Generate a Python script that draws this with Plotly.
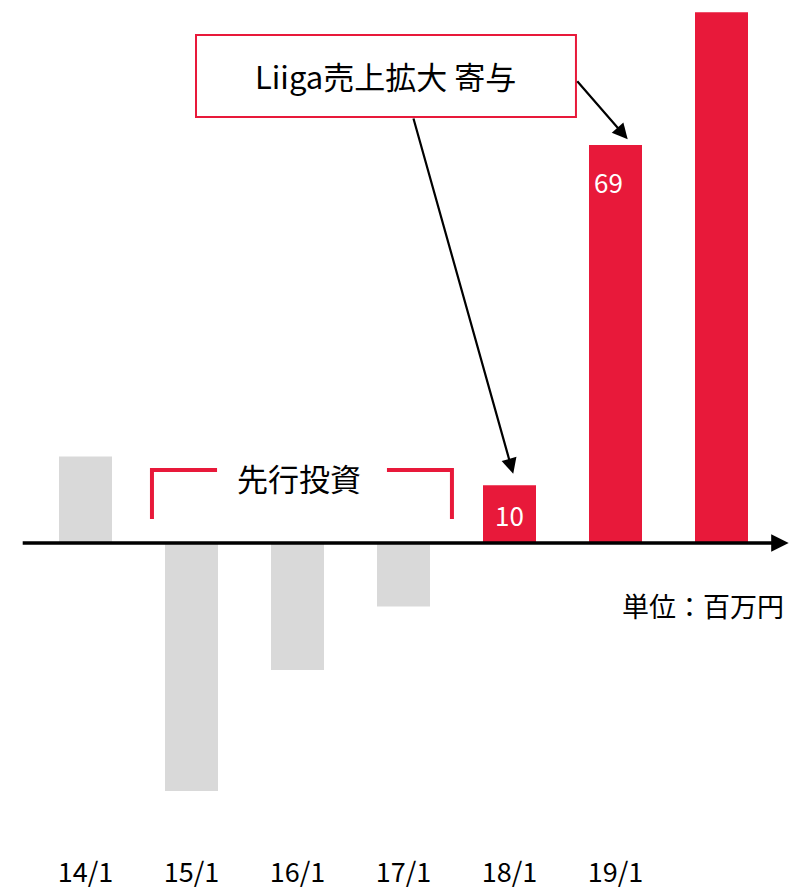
import plotly.graph_objects as go

# Operating result by fiscal period (unit: million yen)
periods = ["14/1", "15/1", "16/1", "17/1", "18/1", "19/1", ""]
profit = [15, -43, -22, -11, 10, 69, 92]
labelled = {"18/1": 10, "19/1": 69}
invest_periods = ["15/1", "16/1", "17/1"]
first_liiga_idx = 4

RED = "#E8193A"
GRAY = "#D9D9D9"
FONT = "Noto Sans CJK JP"

xs = list(range(len(periods)))
colors = [RED if i >= first_liiga_idx else GRAY for i in xs]

fig = go.Figure(
    go.Bar(x=xs, y=profit, marker=dict(color=colors, line=dict(width=0)), width=0.5,
           hoverinfo="skip")
)

# plot geometry: category i centred at 85.5 + 106*i px, 5.768 px per million yen
x_lo, x_hi = -85.5 / 106, (794 - 85.5) / 106
y_hi, y_lo = 543 / 5.768, -(840 - 543) / 5.768

annotations = []

# horizontal axis drawn as an arrow through zero
annotations.append(dict(
    x=x_hi - 0.05, y=0, ax=x_lo + 0.2, ay=0, xref="x", yref="y", axref="x", ayref="y",
    text="", showarrow=True, arrowhead=2, arrowsize=1.0, arrowwidth=3.5, arrowcolor="black",
))

# value labels inside the Liiga bars
shifts = {"18/1": (0, -9), "19/1": (-7, -16)}
for p, v in labelled.items():
    i = periods.index(p)
    dx, dy = shifts[p]
    annotations.append(dict(
        x=i, y=profit[i], xref="x", yref="y", text=str(v), showarrow=False,
        yanchor="top", xshift=dx, yshift=dy, font=dict(family=FONT, size=26, color="white"),
    ))

# callout box
box = dict(x0=1.0425, x1=4.627, y0=73.86, y1=88.07)
annotations.append(dict(
    x=(box["x0"] + box["x1"]) / 2, y=(box["y0"] + box["y1"]) / 2, xref="x", yref="y",
    text="Liiga売上拡大 寄与", showarrow=False, font=dict(family=FONT, size=31, color="#000"),
))
# arrows from the callout to the 18/1 and 19/1 bars
annotations.append(dict(
    x=4.035, y=12.0, ax=3.09, ay=box["y0"], xref="x", yref="y", axref="x", ayref="y",
    text="", showarrow=True, arrowhead=2, arrowsize=1.4, arrowwidth=2.2, arrowcolor="black",
))
annotations.append(dict(
    x=5.115, y=70.0, ax=box["x1"], ay=80.3, xref="x", yref="y", axref="x", ayref="y",
    text="", showarrow=True, arrowhead=2, arrowsize=1.4, arrowwidth=2.2, arrowcolor="black",
))

# bracket over the investment years
i0, i1 = periods.index(invest_periods[0]), periods.index(invest_periods[-1])
annotations.append(dict(
    x=(i0 + i1) / 2 + 0.01, y=11.4, xref="x", yref="y", text="先行投資", showarrow=False,
    font=dict(family=FONT, size=31, color="#000"),
))

# unit note
annotations.append(dict(
    x=x_hi - 0.08, y=-10.8, xref="x", yref="y", xanchor="right", text="単位：百万円",
    showarrow=False, font=dict(family=FONT, size=27, color="#000"),
))

bx0, bx1 = i0 - 0.5 + 0.127, i1 + 0.5 - 0.043
shapes = [
    dict(type="rect", xref="x", yref="y", layer="below", **box,
         line=dict(color=RED, width=2), fillcolor="white"),
    dict(type="path", xref="x", yref="y",
         path=f"M {bx0},4.16 L {bx0},12.66 L {bx0 + 0.614},12.66",
         line=dict(color=RED, width=4)),
    dict(type="path", xref="x", yref="y",
         path=f"M {bx1 - 0.613},12.66 L {bx1},12.66 L {bx1},4.16",
         line=dict(color=RED, width=4)),
]

fig.update_layout(
    width=794, height=890, margin=dict(l=0, r=0, t=0, b=50),
    paper_bgcolor="white", plot_bgcolor="white", showlegend=False,
    annotations=annotations, shapes=shapes,
    xaxis=dict(range=[x_lo, x_hi], tickvals=xs[:6], ticktext=periods[:6], ticks="",
               showgrid=False, zeroline=False, showline=False, fixedrange=True,
               tickfont=dict(family=FONT, size=27, color="#000"), ticklabelstandoff=14),
    yaxis=dict(range=[y_lo, y_hi], visible=False, fixedrange=True),
)

fig.write_html("out.html")
